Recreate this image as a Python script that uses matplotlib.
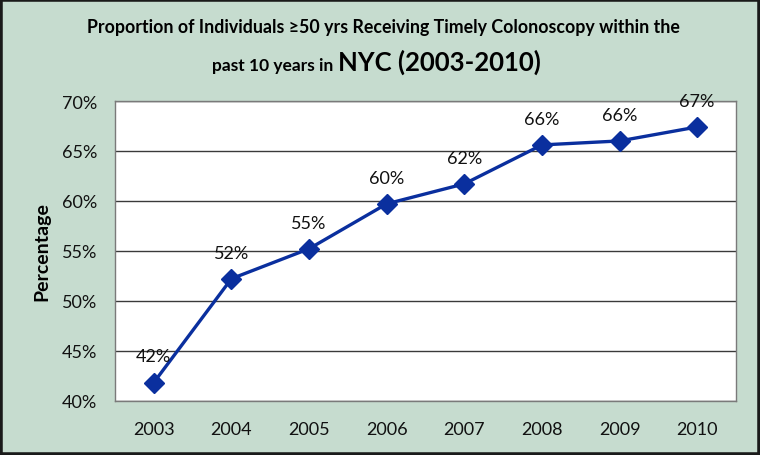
import matplotlib.pyplot as plt
from matplotlib.patches import Rectangle

years = ["2003", "2004", "2005", "2006", "2007", "2008", "2009", "2010"]
values = [0.418, 0.522, 0.552, 0.597, 0.617, 0.656, 0.660, 0.674]
labels = ["42%", "52%", "55%", "60%", "62%", "66%", "66%", "67%"]
yticks = [0.40, 0.45, 0.50, 0.55, 0.60, 0.65, 0.70]

plt.rcParams["font.family"] = ["Lato", "DejaVu Sans"]
bg = "#c6dccf"

fig = plt.figure(figsize=(7.6, 4.56), dpi=100, facecolor=bg)
ax = fig.add_axes([115 / 760, 1 - 401.5 / 456, 621 / 760, 299.5 / 456])
ax.set_facecolor("white")

x = list(range(len(years)))
ax.plot(x, values, color="#0a2f9e", lw=2.4, marker="D", ms=10, zorder=3)
for xi, v, lab in zip(x, values, labels):
    ax.annotate(lab, (xi, v), xytext=(0, 13), textcoords="offset points",
                ha="center", va="bottom", fontsize=13, color="#111111")

ax.set_xlim(-0.5, len(years) - 0.5)
ax.set_ylim(0.40, 0.70)
ax.set_xticks(x)
ax.set_xticklabels(years)
ax.set_yticks(yticks)
ax.set_yticklabels([f"{int(round(t * 100))}%" for t in yticks])
ax.tick_params(length=0, labelsize=13, colors="#111111")
ax.tick_params(axis="x", pad=15)
ax.tick_params(axis="y", pad=13)
ax.yaxis.grid(True, color="#3a3a3a", lw=1)
ax.set_axisbelow(True)
for s in ax.spines.values():
    s.set_color("#7a7a7a")
    s.set_linewidth(1)

fig.text(42 / 760, 1 - 252 / 456, "Percentage", rotation=90, ha="center",
         va="center", fontsize=14, fontweight="bold")

fig.text(383 / 760, 1 - 28 / 456,
         "Proportion of Individuals \u226550 yrs Receiving Timely Colonoscopy within the",
         ha="center", va="center", fontsize=12.8, fontweight="bold")
fig.text(338 / 760, 1 - 71 / 456, "past 10 years in ", ha="right",
         va="baseline", fontsize=12.5, fontweight="bold")
fig.text(338 / 760, 1 - 71 / 456, "NYC (2003-2010)", ha="left",
         va="baseline", fontsize=18.5, fontweight="bold")

fig.patches.append(Rectangle((0, 0), 1, 1, transform=fig.transFigure,
                             fill=False, edgecolor="#1a1a1a", lw=4))

fig.savefig("out.png", dpi=100, facecolor=bg)
